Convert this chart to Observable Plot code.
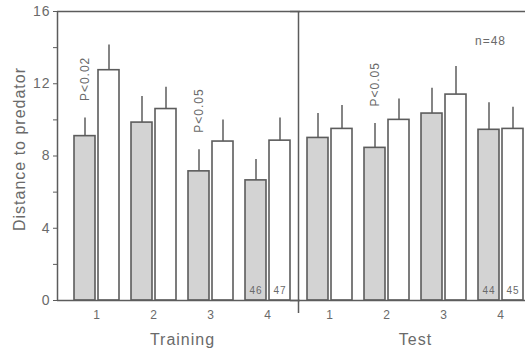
<!DOCTYPE html>
<html><head><meta charset="utf-8">
<script src="https://cdn.jsdelivr.net/npm/d3@7"></script>
<script src="https://cdn.jsdelivr.net/npm/@observablehq/plot@0.6"></script>
<style>body{margin:0;background:#fff}</style>
</head><body><div id="chart"></div>
<script>
const phases = ["Training", "Test"];
const trials = [1, 2, 3, 4];
// shaded (grey) bars, Training 1-4 then Test 1-4
const shadedMean = [9.1, 9.85, 7.15, 6.65, 9.0, 8.45, 10.35, 9.45];
const shadedSE   = [1.0, 1.45, 1.2, 1.15, 1.35, 1.35, 1.4, 1.5];
// open (white) bars
const whiteMean  = [12.75, 10.6, 8.8, 8.85, 9.5, 10.0, 11.4, 9.5];
const whiteSE    = [1.4, 1.2, 1.2, 1.25, 1.3, 1.15, 1.55, 1.2];
const yTicks = [0, 4, 8, 12, 16];
const yMinorTicks = [2, 6, 10, 14];
const pPhase = ["Training", "Training", "Test"];
const pTrial = [1, 3, 2];
const pText  = ["P<0.02", "P<0.05", "P<0.05"];
const nPhase = ["Training", "Test"];
const nTrial = [4, 4];
const nShaded = ["46", "44"];
const nWhite  = ["47", "45"];
const nTotal = "n=48";
const yLabel = "Distance to predator";

const shaded = [], white = [];
phases.forEach((p, i) => trials.forEach((t, j) => {
  const k = i * 4 + j;
  shaded.push({phase: p, trial: t, mean: shadedMean[k], top: shadedMean[k] + shadedSE[k]});
  white.push({phase: p, trial: t, mean: whiteMean[k], top: whiteMean[k] + whiteSE[k]});
}));
const pRows = pText.map((s, i) => ({phase: pPhase[i], trial: pTrial[i], label: s,
  top: shaded.find(d => d.phase === pPhase[i] && d.trial === pTrial[i]).top}));
const nRowsS = nShaded.map((s, i) => ({phase: nPhase[i], trial: nTrial[i], label: s}));
const nRowsW = nWhite.map((s, i) => ({phase: nPhase[i], trial: nTrial[i], label: s}));

const ink = "#5c5c5c", txt = "#6a6a6a";
const chart = Plot.plot({
  width: 525, height: 353,
  marginTop: 11, marginBottom: 53, marginLeft: 57, marginRight: -4,
  style: {background: "white", color: txt, fontFamily: "'Liberation Sans', Arial, sans-serif", letterSpacing: "1px"},
  fx: {domain: phases, paddingInner: 5 / 233, paddingOuter: 11 / 466, align: 1, axis: null},
  x: {domain: trials, padding: 0, axis: null},
  y: {domain: [0, 16], axis: null},
  marks: [
    Plot.barY(shaded, {fx: "phase", x: "trial", y: "mean", insetLeft: 6, insetRight: 30, fill: "#d3d3d3", stroke: ink, strokeWidth: 1.6}),
    Plot.barY(white, {fx: "phase", x: "trial", y: "mean", insetLeft: 30, insetRight: 6, fill: "white", stroke: ink, strokeWidth: 1.6}),
    Plot.ruleX(shaded, {fx: "phase", x: "trial", y1: "mean", y2: "top", dx: -12, stroke: ink, strokeWidth: 1.5}),
    Plot.ruleX(white, {fx: "phase", x: "trial", y1: "mean", y2: "top", dx: 12, stroke: ink, strokeWidth: 1.5}),
    Plot.ruleY([0, 16], {insetLeft: -11, insetRight: -4, stroke: ink, strokeWidth: 1.5}),
    Plot.ruleX([{phase: "Training", trial: 1}], {fx: "phase", x: "trial", dx: -39.5, stroke: ink, strokeWidth: 1.5}),
    Plot.ruleX([{phase: "Test", trial: 1}], {fx: "phase", x: "trial", dx: -31.5, insetBottom: -13, stroke: ink, strokeWidth: 1.5}),
    Plot.axisY(yTicks, {tickSize: 4, tickPadding: 3, dx: -11, fontSize: 14, stroke: ink, label: null}),
    Plot.axisY(yMinorTicks, {tickSize: 4, text: null, dx: -11, stroke: ink, label: null}),
    Plot.axisX({tickSize: 0, tickPadding: 10, fontSize: 12, label: null}),
    Plot.axisFx({anchor: "bottom", tickSize: 0, tickPadding: 33, fontSize: 16, label: null}),
    Plot.text(pRows, {fx: "phase", x: "trial", y: "top", text: "label", rotate: -90, textAnchor: "start", dx: -12, dy: -17, fontSize: 12, fill: txt}),
    Plot.text(nRowsS, {fx: "phase", x: "trial", y: 0, text: "label", dx: -12, dy: -10, fontSize: 10, fill: txt}),
    Plot.text(nRowsW, {fx: "phase", x: "trial", y: 0, text: "label", dx: 12, dy: -10, fontSize: 10, fill: txt}),
    Plot.text([{phase: "Test", label: nTotal}], {fx: "phase", text: "label", frameAnchor: "top-right", textAnchor: "middle", dx: -39, dy: 25, fontSize: 12, fill: txt}),
    Plot.text([{phase: "Training", label: yLabel}], {fx: "phase", text: "label", frameAnchor: "left", textAnchor: "middle", rotate: -90, dx: -49, dy: -7, fontSize: 16, fill: txt})
  ]
});
document.getElementById("chart").appendChild(chart);
</script>
</body></html>
